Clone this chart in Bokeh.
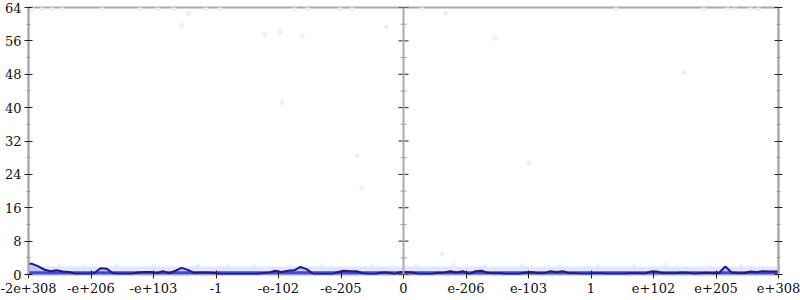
from bokeh.plotting import figure
from bokeh.models import FixedTicker, LinearAxis, Span
from bokeh.embed import file_html
from bokeh.resources import INLINE

# ---- data ----
tick_pos = [-6, -5, -4, -3, -2, -1, 0, 1, 2, 3, 4, 5, 6]
tick_labels = ["-2e+308", "-e+206", "-e+103", "-1", "-e-102", "-e-205", "0",
               "e-206", "e-103", "1", "e+102", "e+205", "e+308"]
y_major = [0, 8, 16, 24, 32, 40, 48, 56, 64]
y_minor = [4, 12, 20, 28, 36, 44, 52, 60]

# density curve, 120 bins of width 0.1 from -6 to 6
curve_y = [2.6, 2.0, 1.2, 0.8, 1.0, 0.7, 0.6, 0.2, 0.2, 0.2,
           0.3, 1.5, 1.4, 0.3, 0.2, 0.2, 0.2, 0.5, 0.6, 0.6,
           0.3, 0.8, 0.3, 0.9, 1.6, 1.1, 0.4, 0.5, 0.5, 0.4,
           0.1, 0.1, 0.1, 0.1, 0.1, 0.1, 0.1, 0.3, 0.5, 0.9,
           0.6, 0.9, 1.0, 1.8, 1.3, 0.2, 0.1, 0.1, 0.1, 0.6,
           0.9, 0.8, 0.8, 0.3, 0.1, 0.1, 0.5, 0.5, 0.1, 0.6,
           0.6, 0.5, 0.1, 0.1, 0.1, 0.4, 0.5, 0.8, 0.5, 0.8,
           0.1, 0.8, 0.9, 0.4, 0.3, 0.3, 0.1, 0.1, 0.1, 0.5,
           0.6, 0.3, 0.3, 0.8, 0.6, 0.8, 0.3, 0.3, 0.2, 0.2,
           0.3, 0.3, 0.2, 0.2, 0.2, 0.2, 0.3, 0.3, 0.2, 0.7,
           0.7, 0.3, 0.3, 0.3, 0.5, 0.4, 0.2, 0.3, 0.4, 0.3,
           0.4, 1.9, 0.5, 0.3, 0.3, 0.7, 0.6, 0.8, 0.7, 0.7]
curve_x = [round(-5.95 + 0.1 * i, 3) for i in range(len(curve_y))]
curve_x = [-6.0] + curve_x + [6.0]
curve_y = [curve_y[0]] + curve_y + [curve_y[-1]]

band_x = [-6, 6]
band_top = [0.8, 0.8]
haze_top = [1.9, 1.9]

pts_x = [-5.94, -5.78, -5.62, -5.46, -4.82, -4.21, -3.94, -3.68, -3.44, -3.55,
         -3.17, -2.93, -2.22, -1.97, -1.74, -1.62, -1.54, -1.94, -1.01, -0.82,
         -0.74, -0.67, -0.27, 0.30, 0.62, 0.67, 1.46, 2.00, 4.48, 4.80,
         5.18, 5.55, 5.68, 5.30, 3.40,
         -5.5, -5.1, -4.6, -4.0, -3.3, -2.8, -2.4, -1.8, -1.3, -0.5,
         0.2, 0.8, 1.3, 1.9, 2.5, 3.1, 3.7, 4.2, 4.9, 5.4]
pts_y = [63.7, 63.7, 63.7, 63.7, 63.7, 63.7, 63.7, 63.7, 62.6, 59.7,
         63.7, 63.7, 57.5, 58.2, 63.6, 57.3, 63.7, 41.2, 63.6, 63.7,
         28.5, 20.6, 59.4, 63.7, 5.0, 62.6, 56.6, 26.8, 48.4, 63.7,
         63.7, 63.7, 63.7, 63.7, 63.7,
         2.0, 1.8, 2.1, 1.9, 2.2, 1.8, 2.0, 1.9, 2.1, 1.8,
         2.0, 2.3, 1.9, 2.1, 1.8, 2.0, 1.9, 2.2, 1.8, 2.0]

# ---- figure ----
p = figure(width=800, height=300, x_range=(-6, 6), y_range=(0, 64),
           output_backend="svg", toolbar_location=None,
           min_border_left=28, min_border_right=22,
           min_border_top=7, min_border_bottom=26)
p.background_fill_color = "white"
p.border_fill_color = "white"
p.outline_line_color = "#aaaaaa"
p.outline_line_width = 2
p.xgrid.visible = False
p.ygrid.visible = False

FONT = "DejaVu Serif"

# points (very faint)
p.scatter(pts_x, pts_y, size=5, fill_color="#eeeefc", line_color=None)
# haze near bottom
p.varea(x=band_x, y1=[0, 0], y2=haze_top, fill_color="#e2e2fa", fill_alpha=0.9)
# area under curve
p.varea(x=curve_x, y1=[0] * len(curve_x), y2=curve_y, fill_color="#c0c0f0", fill_alpha=0.85)
# bright band
p.varea(x=band_x, y1=[0, 0], y2=band_top, fill_color="#3434e4", fill_alpha=0.9)
# curve
p.line(curve_x, curve_y, line_color="#1c1c88", line_width=2)

# middle divider
p.add_layout(Span(location=0, dimension="height", line_color="#aaaaaa", line_width=2))
p.scatter([0] * len(y_major), y_major, marker="dash", size=10, line_color="#222222", line_width=1)
p.scatter([0] * len(y_minor), y_minor, marker="dash", size=6, line_color="#999999", line_width=1)

# axes
xa = p.xaxis[0]
xa.ticker = FixedTicker(ticks=tick_pos)
xa.major_label_overrides = {t: l for t, l in zip(tick_pos, tick_labels)}
xa.axis_line_color = None
xa.major_tick_in = 4
xa.major_tick_out = 4
xa.major_tick_line_color = "#222222"
xa.minor_tick_line_color = None
xa.major_label_standoff = 4
xa.major_label_text_font = FONT
xa.major_label_text_font_size = "13px"
xa.major_label_text_color = "#111111"

ya = p.yaxis[0]
ya.ticker = FixedTicker(ticks=y_major, minor_ticks=y_minor)
ya.axis_line_color = "#aaaaaa"
ya.axis_line_width = 2
ya.major_tick_in = 4
ya.major_tick_out = 4
ya.minor_tick_in = 2
ya.minor_tick_out = 2
ya.major_tick_line_color = "#222222"
ya.minor_tick_line_color = "#999999"
ya.major_label_standoff = 3
ya.major_label_text_font = FONT
ya.major_label_text_font_size = "13px"
ya.major_label_text_color = "#111111"

ra = LinearAxis(ticker=FixedTicker(ticks=y_major, minor_ticks=y_minor))
ra.axis_line_color = "#aaaaaa"
ra.axis_line_width = 2
ra.major_tick_in = 4
ra.major_tick_out = 4
ra.minor_tick_in = 2
ra.minor_tick_out = 2
ra.major_tick_line_color = "#222222"
ra.minor_tick_line_color = "#999999"
ra.major_label_overrides = {t: "" for t in y_major}
ra.major_label_standoff = 0
p.add_layout(ra, "right")

open("out.html", "w").write(file_html(p, INLINE))
